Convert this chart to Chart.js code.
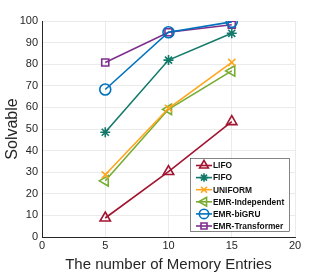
<!DOCTYPE html>
<html><head><meta charset="utf-8">
<script src="https://cdn.jsdelivr.net/npm/chart.js@4/dist/chart.umd.min.js"></script>
<style>html,body{margin:0;padding:0;background:#fff;}#wrap{width:327px;height:274px;}</style>
</head><body><div id="wrap"><canvas id="c" width="327" height="274"></canvas></div>
<script>
const memoryEntries = [5, 10, 15];
const seriesNames = ["LIFO", "FIFO", "UNIFORM", "EMR-Independent", "EMR-biGRU", "EMR-Transformer"];
const lifo = [8.8, 30.3, 53.4];
const fifo = [48.5, 81.9, 94.3];
const uniform = [28.8, 59.6, 80.8];
const emrIndependent = [26.0, 59.1, 76.9];
const emrBiGRU = [68.3, 94.8, 99.6];
const emrTransformer = [80.8, 94.8, 98.3];
const xTicks = [0, 5, 10, 15, 20];
const yTicks = [0, 10, 20, 30, 40, 50, 60, 70, 80, 90, 100];

const colors = ["#A2142F", "#137A6B", "#FFA51C", "#77AC30", "#0072BD", "#7E2F8E"];
const styles = ["triangle", "star", "crossRot", "triangle", "circle", "rect"];
const rots = [0, 0, 0, -90, 0, 0];
const radii = [6, 5, 5, 6, 5.5, 5];
const allData = [lifo, fifo, uniform, emrIndependent, emrBiGRU, emrTransformer];

const datasets = allData.map((vals, i) => ({
  label: seriesNames[i],
  data: vals.map((v, j) => ({x: memoryEntries[j], y: v})),
  borderColor: colors[i],
  backgroundColor: 'rgba(0,0,0,0)',
  pointBackgroundColor: 'rgba(0,0,0,0)',
  pointBorderColor: colors[i],
  pointStyle: styles[i],
  pointRotation: rots[i],
  pointRadius: radii[i],
  pointBorderWidth: 1.6,
  borderWidth: 1.6,
  tension: 0
}));

const legendBox = {
  id: 'legendBox',
  afterDatasetsDraw(chart) {
    const ctx = chart.ctx;
    const area = chart.chartArea;
    const x0 = 190, y0 = 158, w = 99, h = 73;
    ctx.save();
    ctx.fillStyle = '#fff';
    ctx.fillRect(x0, y0, w, h);
    ctx.strokeStyle = '#333';
    ctx.lineWidth = 0.6;
    ctx.strokeRect(x0 + 0.5, y0 + 0.5, w, h);
    ctx.font = 'bold 8.4px "Liberation Sans", Arial, sans-serif';
    ctx.textBaseline = 'middle';
    chart.data.datasets.forEach((ds, i) => {
      const yy = y0 + 7.5 + i * 12.1;
      ctx.strokeStyle = ds.borderColor;
      ctx.lineWidth = 1.6;
      ctx.beginPath();
      ctx.moveTo(x0 + 6, yy);
      ctx.lineTo(x0 + 22, yy);
      ctx.stroke();
      ctx.fillStyle = 'rgba(0,0,0,0)';
      Chart.helpers.drawPoint(ctx, {pointStyle: ds.pointStyle, rotation: ds.pointRotation, radius: ds.pointRadius * 0.85, borderWidth: 1.6}, x0 + 14, yy);
      ctx.fillStyle = '#111';
      ctx.fillText(ds.label, x0 + 23, yy + 0.5);
    });
    ctx.restore();
  }
};

new Chart(document.getElementById('c'), {
  type: 'line',
  data: {datasets},
  options: {
    responsive: false,
    animation: false,
    devicePixelRatio: 1,
    layout: {padding: {top: 21, right: 32, left: 0, bottom: 0}},
    plugins: {legend: {display: false}, tooltip: {enabled: false}},
    scales: {
      x: {
        type: 'linear', min: 0, max: 20,
        afterBuildTicks: s => { s.ticks = xTicks.map(v => ({value: v})); },
        afterFit: s => { s.height = 37; },
        grid: {color: '#e6e6e6', lineWidth: 0.8, drawTicks: false},
        border: {color: '#262626', width: 1},
        ticks: {color: '#262626', font: {size: 11, family: '"Liberation Sans", Arial, sans-serif'}, padding: 2, maxRotation: 0},
        title: {display: true, text: 'The number of Memory Entries', color: '#262626', font: {size: 15, family: '"Liberation Sans", Arial, sans-serif'}, padding: {top: 1, bottom: 0}}
      },
      y: {
        min: 0, max: 100,
        afterBuildTicks: s => { s.ticks = yTicks.map(v => ({value: v})); },
        afterFit: s => { s.width = 42; },
        grid: {color: '#e6e6e6', lineWidth: 0.8, drawTicks: false},
        border: {color: '#262626', width: 1},
        ticks: {color: '#262626', font: {size: 11, family: '"Liberation Sans", Arial, sans-serif'}, padding: 4},
        title: {display: true, text: 'Solvable', color: '#262626', font: {size: 16, family: '"Liberation Sans", Arial, sans-serif'}, padding: {top: 3, bottom: 2}}
      }
    }
  },
  plugins: [legendBox]
});
</script>
</body></html>
